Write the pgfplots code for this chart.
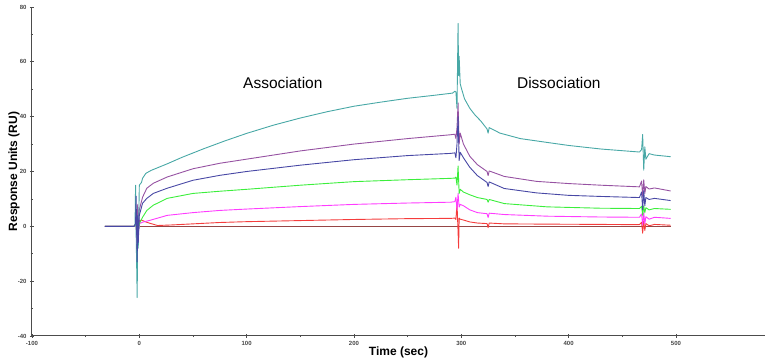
\documentclass[border=0pt]{standalone}
\usepackage{fontspec}
\setmainfont{Liberation Sans}
\usepackage{pgfplots}
\pgfplotsset{compat=1.18}
\definecolor{cteal}{RGB}{72,168,166}
\definecolor{cpurple}{RGB}{150,82,162}
\definecolor{cblue}{RGB}{72,72,165}
\definecolor{cgreen}{RGB}{60,238,60}
\definecolor{cmag}{RGB}{255,60,255}
\definecolor{cred}{RGB}{245,60,60}
\definecolor{cbrown}{RGB}{150,70,70}
\begin{document}
\begin{tikzpicture}
\begin{axis}[
  scale only axis, width=733pt, height=329pt,
  xmin=-100, xmax=583, ymin=-40, ymax=80,
  axis x line*=bottom, axis y line*=left,
  axis line style={-, draw=black!70, line width=1pt},
  xtick={-100,0,100,200,300,400,500}, ytick={-40,-20,0,20,40,60,80},
  minor x tick num=1, minor y tick num=1,
  tick style={black!70, line width=0.8pt},
  major tick length=4pt, minor tick length=2.5pt, tick align=center,
  ticklabel style={font=\fontsize{6}{7}\selectfont\bfseries, text=black!72},
  /pgf/number format/assume math mode=true,
  xlabel={Time (sec)}, ylabel={Response Units (RU)},
  label style={font=\fontsize{12}{14}\selectfont\bfseries},
  xlabel style={at={(axis description cs:0.5,-0.0486)}, anchor=center},
  ylabel style={at={(axis description cs:-0.0246,0.5)}, anchor=center},
  every axis plot/.append style={line width=0.9pt, line join=round},
]
% brown reference baseline
\addplot[cbrown, line width=1pt] coordinates {(1,0) (495,0)};
% red
\addplot[cred] coordinates {
(-32,0) (-5,0) (-3,0.3) (-2,-4) (-1.5,1) (-1,-2) (0,2) (2,2.3) (6,1.6) (10,1.1) (17,0.3) (30,0.5) (50,0.9) (75,1.4)
(100,1.7) (150,2.1) (200,2.5) (250,2.8) (290,2.9) (294,3) (295,2.5) (296,8.4) (297,-2) (297.5,-8) (298,3) (299,2.6)
(302,2.3) (308,1.6) (315,1.2) (324,1) (325,-0.5) (326,1.2) (340,0.9) (380,0.8) (430,0.7) (466,0.6)
(468,1.5) (469,-2.5) (470,2) (471,-1.5) (472,1) (475,0.2) (480,0.7) (495,0.4)};
% magenta
\addplot[cmag] coordinates {
(-32,0) (-5,0) (-3,0.5) (-2,-5) (-1.5,2) (-1,-3) (0,1) (3,1.5) (10,2.2) (26,4) (50,5) (75,5.8)
(100,6.3) (150,7.2) (200,8) (250,8.5) (290,8.8) (294,9) (295,10.6) (296,6) (297,12) (298,7) (299,8)
(302,7.5) (308,6) (315,5) (324,4.6) (325,3.2) (326,4.8) (340,4.3) (380,3.7) (430,3.4) (466,3.3)
(468,4.5) (469,0.5) (470,5) (471,1) (472,3.5) (475,2.6) (480,3.3) (495,2.9)};
% green
\addplot[cgreen] coordinates {
(-32,0) (-5,0) (-3,0.5) (-2,-3) (-1.5,3) (-1,-2) (0,1) (3,3.3) (7,5.8) (13,7.7) (26,10.2) (50,12) (75,12.8)
(100,13.5) (150,15) (200,16.3) (250,17) (290,17.5) (294,17.6) (295,18) (296,15) (297,22) (298,12) (299,13.5)
(302,12.5) (308,11.5) (315,10.5) (324,9.8) (325,8.8) (326,9.8) (340,8.3) (380,7.1) (430,6.6) (466,6.5)
(468,7.3) (469,4) (470,7.5) (471,5) (472,6.8) (475,6) (480,6.5) (495,6.2)};
% purple
\addplot[cpurple] coordinates {
(-32,0) (-5,0) (-3,1) (-2,-6) (-1.5,8) (-1,-3) (0,6) (3,10.6) (7,13.9) (13,15.7) (26,18) (50,21) (75,23)
(100,24.5) (150,27.5) (200,30) (250,32) (290,33.4) (294,33.6) (295,32) (296,36) (297,45) (298,30) (299,34)
(302,30) (308,25.5) (315,22.5) (324,20) (325,18.5) (326,20.2) (340,18.2) (370,16.4) (400,15.6) (430,15) (466,14.4)
(468,16.5) (469,11) (470,17) (471,12) (472,14.5) (475,13.6) (480,14) (495,12.9)};
% teal
\addplot[cteal] coordinates {
(-32,0) (-5,0) (-4,0.5) (-3.5,15) (-3,-2) (-2,-26) (-1.5,0) (-1,-8) (0,15) (2,16) (3,17.5) (6,19.3) (11,20.4)
(26,22.8) (40,25.2) (60,28.3) (80,31.2) (100,33.9) (125,36.9) (150,39.5) (175,41.8) (200,43.8) (225,45.3)
(250,46.7) (275,47.8) (292,48.6) (294,49.3) (295,49) (296,43) (297,74) (297.5,55) (298,62) (299,52)
(300,50.5) (303,46.5) (308,43) (313,40.5) (318,38.5) (324,35.5) (325,34) (326,36) (336,34) (355,32) (380,30.6)
(400,29.5) (430,28.2) (466,27.1) (468,28) (469,33.5) (470,20.5) (471,29) (472,24.5) (475,26.5) (480,26) (495,25.4)};
% blue
\addplot[cblue] coordinates {
(-32,0) (-5,0) (-3.5,1) (-3,11) (-2.5,-2) (-2,-13) (-1.5,4) (-1,-6) (0,4) (3,8.4) (7,10.2) (13,12) (26,13.9) (50,16.8) (75,18.6)
(100,20) (150,22.3) (200,24.3) (250,25.8) (290,26.6) (294,26.8) (295,25) (296,30) (297,40) (298,24) (299,27)
(302,25) (308,21.5) (315,18.5) (324,16) (325,14.5) (326,16.2) (340,13.8) (370,12.2) (400,11.3) (430,10.9) (466,10.5)
(468,12.5) (469,6) (470,13) (471,7.5) (472,10.5) (475,9.8) (480,10.2) (495,9.4)};
\node[font=\fontsize{15.5}{18}\selectfont] at (axis cs:133.7,52.2) {Association};
\node[font=\fontsize{15.5}{18}\selectfont] at (axis cs:390.9,52.2) {Dissociation};
\end{axis}
\useasboundingbox (-32pt,-27pt) rectangle (735pt,336pt);
\end{tikzpicture}
\end{document}
